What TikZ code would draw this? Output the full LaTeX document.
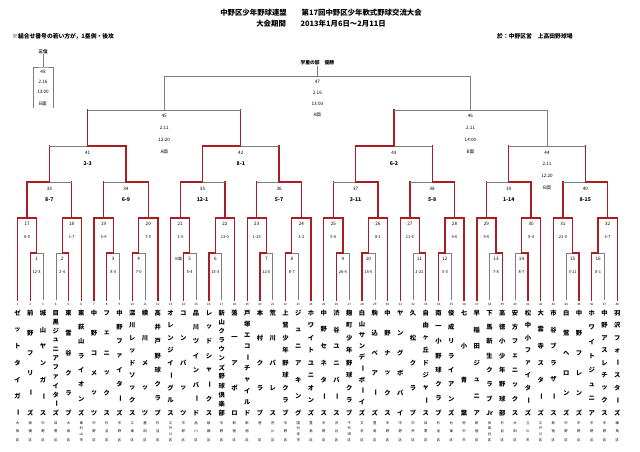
\documentclass[tikz,border=0pt]{standalone}
\usepackage{fontspec}
\setmainfont{Noto Sans CJK JP}
\usetikzlibrary{calc}
\definecolor{wred}{RGB}{170,30,35}
\definecolor{lgrey}{RGB}{125,125,125}
\def\chouon{ー}
\newcommand\conn[4]{\draw[#3] (#1) -- (#1 |- #2);\draw[#4] (#1 |- #2) -- (#2);}
\tikzset{
  win/.style={draw=wred,line width=1.3pt,line cap=rect},
  lose/.style={draw=lgrey,line width=0.55pt},
  lbl/.style={inner sep=0pt,font=\fontsize{4.6}{5}\selectfont},
  sml/.style={inner sep=0pt,font=\fontsize{4}{4.5}\selectfont},
  bsc/.style={inner sep=0pt,font=\fontsize{5.2}{6}\selectfont\bfseries},
  namechar/.style={inner sep=0pt,font=\fontsize{6.3}{7}\selectfont\bfseries},
  dist/.style={inner sep=0pt,font=\fontsize{3.4}{4}\selectfont},
  tnum/.style={inner sep=0pt,font=\fontsize{3}{3.5}\selectfont},
  ttl/.style={inner sep=0pt,font=\fontsize{7.4}{8}\selectfont\bfseries},
  note/.style={inner sep=0pt,font=\fontsize{5.8}{6.5}\selectfont\bfseries},
}
\begin{document}
\begin{tikzpicture}[x=1pt,y=-1pt]
\fill[white] (0,0) rectangle (640,452);
\useasboundingbox (0,0) rectangle (640,452);

% titles
\node[ttl] (title1) at (321,13) {中野区少年野球連盟　　第17回中野区少年軟式野球交流大会};
\node[ttl] (title2) at (321,24) {大会期間　　2013年1月6日～2月11日};
\node[note,anchor=west] (remark) at (12,36) {※組合せ番号の若い方が，1塁側・後攻};
\node[note,anchor=west] (venue) at (497,36) {於：中野区営　上高田野球場};

% team anchors
\foreach \i in {1,...,48} {
  \coordinate (T\i) at ({17.5+(\i-1)*12.76},300);
  \node[tnum] (tn\i) at ({17.5+(\i-1)*12.76},304.5) {\i};
}

% game anchors
\foreach \g/\a/\b/\lev in {
 1/T2/T3/253,2/T4/T5/253,3/T8/T9/253,4/T10/T11/253,5/T14/T15/253,6/T16/T17/253,
 7/T20/T21/253,8/T22/T23/253,9/T26/T27/253,10/T28/T29/253,11/T32/T33/253,12/T34/T35/253,
 13/T38/T39/253,14/T40/T41/253,15/T44/T45/253,16/T46/T47/253,
 17/T1/G1/218,18/G2/T6/218,19/T7/G3/218,20/G4/T12/218,21/T13/G5/218,22/G6/T18/218,
 23/T19/G7/218,24/G8/T24/218,25/T25/G9/218,26/G10/T30/218,27/T31/G11/218,28/G12/T36/218,
 29/T37/G13/218,30/G14/T42/218,31/T43/G15/218,32/G16/T48/218,
 33/G17/G18/182,34/G19/G20/182,35/G21/G22/182,36/G23/G24/182,
 37/G25/G26/182,38/G27/G28/182,39/G29/G30/182,40/G31/G32/182,
 41/G33/G34/146,42/G35/G36/146,43/G37/G38/146,44/G39/G40/146,
 45/G41/G42/110,46/G43/G44/110,47/G45/G46/76}{
  \coordinate (m\g) at ($(\a)!.5!(\b)$);
  \coordinate (G\g) at (m\g |- 0,\lev);
}

% grey connectors
\foreach \u/\v in {T3/G1,T4/G2,T9/G3,T11/G4,T15/G5,T17/G6,T21/G7,T23/G8,T27/G9,T29/G10,
  T32/G11,T35/G12,T38/G13,T40/G14,T44/G15,T47/G16,G45/G47,G46/G47,G44/G46}{
  \conn{\u}{\v}{lose}{lose}}
% red verticals, grey horizontals
\foreach \u/\v in {G41/G45,G42/G45,G43/G46,G39/G44,G40/G44,G33/G41,G36/G42,G38/G43,
  G18/G33,G19/G34,G22/G35,G23/G36,G25/G37,G27/G38,G29/G39,G31/G40}{
  \conn{\u}{\v}{win}{lose}}
% red paths
\foreach \u/\v in {T2/G1,T5/G2,T8/G3,T10/G4,T14/G5,T16/G6,T20/G7,T22/G8,T26/G9,T28/G10,
  T33/G11,T34/G12,T39/G13,T41/G14,T45/G15,T46/G16,
  T1/G17,G1/G17,G2/G18,T6/G18,T7/G19,G3/G19,G4/G20,T12/G20,T13/G21,G5/G21,G6/G22,T18/G22,
  T19/G23,G7/G23,G8/G24,T24/G24,T25/G25,G9/G25,G10/G26,T30/G26,T31/G27,G11/G27,G12/G28,T36/G28,
  T37/G29,G13/G29,G14/G30,T42/G30,T43/G31,G15/G31,G16/G32,T48/G32,
  G17/G33,G20/G34,G21/G35,G24/G36,G26/G37,G28/G38,G30/G39,G32/G40,
  G34/G41,G35/G42,G37/G43}{
  \conn{\u}{\v}{win}{win}}

% third place bracket
\coordinate (G48) at (43,67);
\coordinate (G48a) at (33,108);
\coordinate (G48b) at (53,108);
\draw[lose] (G48a) |- (G48) -| (G48b);
\node[lbl,font=\fontsize{4.6}{5}\selectfont\bfseries] (third) at (43,52) {三位};
\draw[lose] (third.south) -- (G48);
\node[lbl] (n48) at (43,72) {48};
\node[lbl] (d48) at (43,82) {2.16};
\node[lbl] (h48) at (43,92) {13:00};
\node[lbl] (f48) at (43,104) {B面};

% champion label
\node[lbl,font=\fontsize{4.8}{5}\selectfont\bfseries] (champ) at ($(G47)+(0,-13)$) {学童の部　優勝};
\draw[lose] (champ.south) -- (G47);

% game labels
\foreach \g/\s in {1/12-3,2/2-4,3/8-3,4/7-0,5/5-4,6/13-3,7/12-0,8/8-7,9/26-4,10/13-5,
  11/2-21,12/5-3,13/7-8,14/8-7,15/3-11,16/8-1,
  17/8-5,18/1-7,19/3-9,20/7-0,21/1-4,22/13-0,23/1-25,24/3-2,25/5-6,26/8-1,
  27/11-6,28/4-6,29/5-6,30/5-4,31/21-0,32/5-7}{
  \node[lbl] (n\g) at ([yshift=-6pt]G\g) {\g};
  \node[sml] (s\g) at ([yshift=-19pt]G\g) {\s};
}
\foreach \g/\s in {33/8-7,34/6-9,35/12-1,36/5-7,37/3-11,38/5-8,39/1-14,40/8-15,
  41/2-3,42/8-1,43/6-2}{
  \node[lbl] (n\g) at ([yshift=-7pt]G\g) {\g};
  \node[bsc] (s\g) at ([yshift=-18pt]G\g) {\s};
}
\node[sml] (b5) at ([xshift=-11pt,yshift=-6pt]G5) {B面};
\node[lbl] (n44) at ([yshift=-7pt]G44) {44};
\node[lbl] (d44) at ([yshift=-18pt]G44) {2.11};
\node[lbl] (h44) at ([yshift=-30pt]G44) {12:20};
\node[lbl] (f44) at ([yshift=-42pt]G44) {B面};
\node[lbl] (n45) at ([yshift=-6pt]G45) {45};
\node[lbl] (d45) at ([yshift=-18pt]G45) {2.11};
\node[lbl] (h45) at ([yshift=-30pt]G45) {12:20};
\node[lbl] (f45) at ([yshift=-42pt]G45) {A面};
\node[lbl] (n46) at ([yshift=-6pt]G46) {46};
\node[lbl] (d46) at ([yshift=-18pt]G46) {2.11};
\node[lbl] (h46) at ([yshift=-30pt]G46) {14:00};
\node[lbl] (f46) at ([yshift=-42pt]G46) {B面};
\node[lbl] (n47) at ([yshift=-6pt]G47) {47};
\node[lbl] (d47) at ([yshift=-17pt]G47) {2.16};
\node[lbl] (h47) at ([yshift=-28pt]G47) {13:00};
\node[lbl] (f47) at ([yshift=-39pt]G47) {A面};

% team names and districts
\foreach \i/\nm/\ds in {
 1/{ゼ,ッ,ト,タ,イ,ガ,ー}/{大,田,区},
 2/{前,野,フ,リ,ー,ズ}/{板,橋,区},
 3/{城,山,ヤ,ン,ガ,ー,ス}/{中,野,区},
 4/{目,黒,ジ,ュ,ニ,ア,フ,ァ,イ,タ,ー,ズ}/{目,黒,区},
 5/{東,雪,谷,ク,ラ,ブ}/{大,田,区},
 6/{東,萩,山,ラ,イ,オ,ン,ズ}/{東,村,山,市},
 7/{中,野,コ,メ,ッ,ツ}/{中,野,区},
 8/{フ,ェ,ニ,ッ,ク,ス}/{杉,並,区},
 9/{中,野,フ,ァ,イ,タ,ー,ズ}/{中,野,区},
 10/{深,川,レ,ッ,ド,ソ,ッ,ク,ス}/{江,東,区},
 11/{横,川,メ,ッ,ツ}/{墨,田,区},
 12/{高,井,戸,野,球,ク,ラ,ブ}/{杉,並,区},
 13/{オ,レ,ン,ジ,イ,ー,グ,ル,ス}/{江,戸,川,区},
 14/{コ,ン,パ,ッ,ツ}/{中,野,区},
 15/{品,川,ツ,イ,ン,バ,ー,ド}/{品,川,区},
 16/{レ,ッ,ド,シ,ャ,ー,ク,ス}/{板,橋,区},
 17/{新,山,ク,ラ,ウ,ン,ズ,野,球,倶,楽,部}/{中,野,区},
 18/{落,一,ア,ポ,ロ}/{新,宿,区},
 19/{戸,塚,エ,コ,ー,チ,ャ,イ,ル,ド}/{新,宿,区},
 20/{本,村,ク,ラ,ブ}/{港,区},
 21/{荒,川,パ,レ,ス}/{荒,川,区},
 22/{上,鷺,少,年,野,球,ク,ラ,ブ}/{中,野,区},
 23/{ジ,ュ,ニ,ア,キ,ン,グ}/{国,分,寺,市},
 24/{ホ,ワ,イ,ト,ユ,ニ,オ,ン,ズ}/{豊,島,区},
 25/{中,野,セ,ネ,タ,ー,ス}/{中,野,区},
 26/{渋,谷,ユ,ニ,バ,ー,ス}/{渋,谷,区},
 27/{麹,町,少,年,野,球,ク,ラ,ブ}/{千,代,田,区},
 28/{白,山,サ,ン,デ,ー,ボ,ー,イ,ズ}/{文,京,区},
 29/{駒,込,ベ,ア,ー,ズ}/{豊,島,区},
 30/{中,野,ナ,ッ,ク,ス}/{中,野,区},
 31/{ヤ,ン,グ,ボ,バ,イ}/{中,野,区},
 32/{久,松,ク,ラ,ブ}/{中,央,区},
 33/{自,由,ヶ,丘,ド,ジ,ャ,ー,ス}/{目,黒,区},
 34/{南,一,小,野,球,ク,ラ,ブ}/{杉,並,区},
 35/{俊,成,リ,ラ,イ,ア,ン,ズ}/{台,東,区},
 36/{七,小,青,葉}/{府,中,市},
 37/{早,稲,田,ジ,ュ,ニ,ア}/{新,宿,区},
 38/{下,馬,新,生,ク,ラ,ブ,Jr}/{世,田,谷,区},
 39/{高,徳,小,少,年,野,球,部}/{杉,並,区},
 40/{安,方,フ,ェ,ニ,ッ,ク,ス}/{大,田,区},
 41/{松,中,小,フ,ァ,イ,タ,ー,ズ}/{立,川,市},
 42/{大,雲,寺,ス,タ,ー,ズ}/{江,戸,川,区},
 43/{市,谷,ブ,ラ,ザ,ー,ス}/{新,宿,区},
 44/{白,鷺,ヘ,ロ,ン,ズ}/{中,野,区},
 45/{中,野,フ,レ,ン,ズ}/{中,野,区},
 46/{ホ,ワ,イ,ト,ジ,ュ,ニ,ア}/{中,野,区},
 47/{中,野,ア,ス,レ,チ,ッ,ク,ス}/{中,野,区},
 48/{羽,沢,フ,ォ,ー,ス,タ,ー,ズ}/{練,馬,区}}{
  \pgfmathsetmacro\xx{17.5+(\i-1)*12.76}
  \foreach \ch [count=\k] in \nm {\xdef\nn{\k}}
  \foreach \ch [count=\k] in \nm {
    \pgfmathsetmacro\yy{313+(\k-1)*100/(\nn-1)}
    \ifx\ch\chouon
      \node[namechar,rotate=-90] (c\i-\k) at (\xx,\yy) {\ch};
    \else
      \node[namechar] (c\i-\k) at (\xx,\yy) {\ch};
    \fi
  }
  \foreach \ch [count=\k] in \ds {\xdef\nd{\k}}
  \foreach \ch [count=\k] in \ds {
    \pgfmathsetmacro\yy{423+(\k-1)*17/(\nd-1)}
    \node[dist] (d\i-\k) at (\xx,\yy) {\ch};
  }
}
\end{tikzpicture}
\end{document}
